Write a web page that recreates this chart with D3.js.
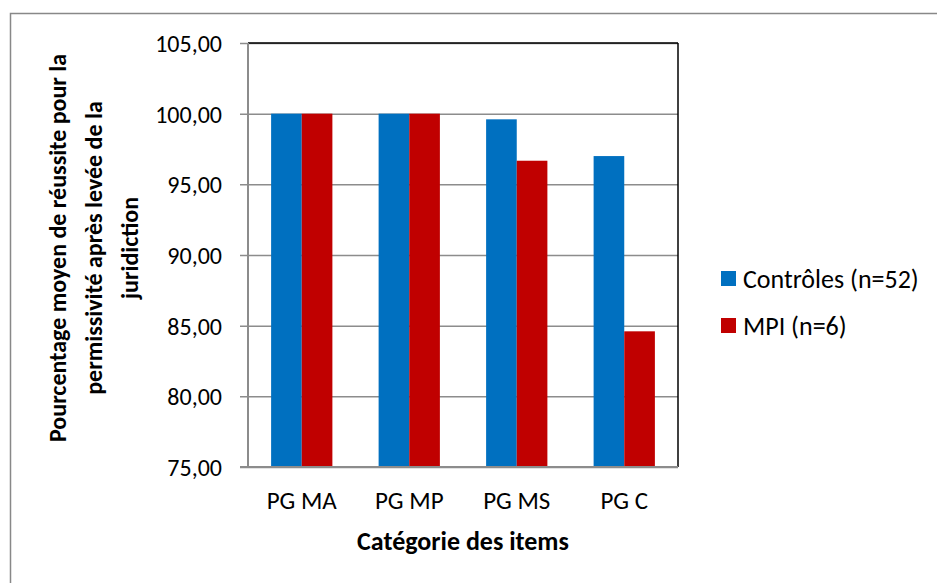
<!DOCTYPE html>
<html>
<head>
<meta charset="utf-8">
<script src="https://cdn.jsdelivr.net/npm/d3@7"></script>
<style>
  body { margin: 0; background: #fff; }
  svg text { font-family: Carlito, Lato, "Open Sans", sans-serif; fill: #000; }
  .y-labels .tick text { font-size: 24px; }
  .x-labels .tick text { font-size: 25px; }
  .axis-title { font-size: 24px; font-weight: bold; }
  .x-title { font-size: 26px; font-weight: bold; }
  .legend text { font-size: 26px; }
</style>
</head>
<body>
<svg width="937" height="583"></svg>
<script>
  var categories = ["PG MA", "PG MP", "PG MS", "PG C"];
  var seriesNames = ["Contrôles (n=52)", "MPI (n=6)"];
  var controles = [100.00, 100.00, 99.60, 97.00];
  var mpi = [100.00, 100.00, 96.67, 84.60];
  var yTicks = [75, 80, 85, 90, 95, 100, 105];
  var colors = ["#0070C0", "#C00000"];

  var svg = d3.select("svg");
  var width = +svg.attr("width");
  var height = +svg.attr("height");

  // outer chart frame
  svg.append("rect")
    .attr("x", 10.5).attr("y", 13.5)
    .attr("width", width + 20).attr("height", height + 20)
    .attr("fill", "none").attr("stroke", "#888").attr("stroke-width", 1.5);

  var margin = { top: 43, left: 248, right: 259, bottom: 116 };
  var innerWidth = width - margin.left - margin.right;
  var innerHeight = height - margin.top - margin.bottom;

  var g = svg.append("g")
    .attr("transform", "translate(" + margin.left + "," + margin.top + ")");

  var xScale = d3.scaleBand()
    .domain(categories)
    .range([0, innerWidth])
    .paddingInner(0.43)
    .paddingOuter(0.215);

  var xInner = d3.scaleBand()
    .domain([0, 1])
    .range([0, xScale.bandwidth()]);

  var yScale = d3.scaleLinear()
    .domain([75, 105])
    .range([innerHeight, 0]);

  // gridlines + y axis
  var yAxis = d3.axisLeft(yScale)
    .tickValues(yTicks)
    .tickSize(-innerWidth)
    .tickPadding(26)
    .tickFormat(function (d) { return d3.format(".2f")(d).replace(".", ","); });

  var yAxisG = g.append("g").attr("class", "y-labels").call(yAxis)
    .attr("font-family", null).attr("font-size", null);
  yAxisG.select(".domain").remove();
  yAxisG.selectAll(".tick line")
    .attr("x1", -8)
    .attr("stroke", "#8c8c8c").attr("stroke-width", 1.5);
  yAxisG.selectAll(".tick text").attr("dy", "0.36em");

  // bars
  var series = [controles, mpi];
  series.forEach(function (vals, si) {
    g.selectAll(".bar-" + si)
      .data(vals)
      .enter()
      .append("rect")
      .attr("class", "bar-" + si)
      .attr("x", function (d, i) { return xScale(categories[i]) + xInner(si); })
      .attr("y", function (d) { return yScale(d); })
      .attr("width", xInner.bandwidth())
      .attr("height", function (d) { return innerHeight - yScale(d); })
      .attr("fill", colors[si]);
  });

  // frame lines of plot area
  g.append("line").attr("x1", 0).attr("x2", innerWidth).attr("y1", 0).attr("y2", 0)
    .attr("stroke", "#000").attr("stroke-width", 1.5);
  g.append("line").attr("x1", innerWidth).attr("x2", innerWidth).attr("y1", 0).attr("y2", innerHeight)
    .attr("stroke", "#000").attr("stroke-width", 1.5);
  g.append("line").attr("x1", 0).attr("x2", 0).attr("y1", 0).attr("y2", innerHeight)
    .attr("stroke", "#8c8c8c").attr("stroke-width", 2);

  // x axis
  var xAxis = d3.axisBottom(xScale).tickSize(0).tickPadding(24);
  var xAxisG = g.append("g")
    .attr("class", "x-labels")
    .attr("transform", "translate(0," + innerHeight + ")")
    .call(xAxis)
    .attr("font-family", null).attr("font-size", null);
  xAxisG.select(".domain")
    .attr("d", "M-8,0H" + innerWidth)
    .attr("stroke", "#8c8c8c").attr("stroke-width", 2);

  // axis titles
  g.append("text")
    .attr("class", "x-title")
    .attr("x", innerWidth / 2)
    .attr("y", innerHeight + 83)
    .attr("text-anchor", "middle")
    .text("Catégorie des items");

  var yTitle = svg.append("text")
    .attr("class", "axis-title")
    .attr("transform", "translate(94,248) rotate(-90)")
    .attr("text-anchor", "middle");
  ["Pourcentage moyen de réussite pour la", "permissivité après levée de la", "juridiction"]
    .forEach(function (line, i) {
      yTitle.append("tspan")
        .attr("x", 0)
        .attr("y", (i - 1) * 36)
        .attr("dy", "0.35em")
        .text(line);
    });

  // legend
  var legend = svg.append("g").attr("class", "legend")
    .attr("transform", "translate(721,271)");
  seriesNames.forEach(function (name, i) {
    var row = legend.append("g").attr("transform", "translate(0," + (i * 47) + ")");
    row.append("rect").attr("width", 15).attr("height", 15).attr("fill", colors[i]);
    row.append("text").attr("x", 22).attr("y", 7.5).attr("dy", "0.36em").text(name);
  });
</script>
</body>
</html>
